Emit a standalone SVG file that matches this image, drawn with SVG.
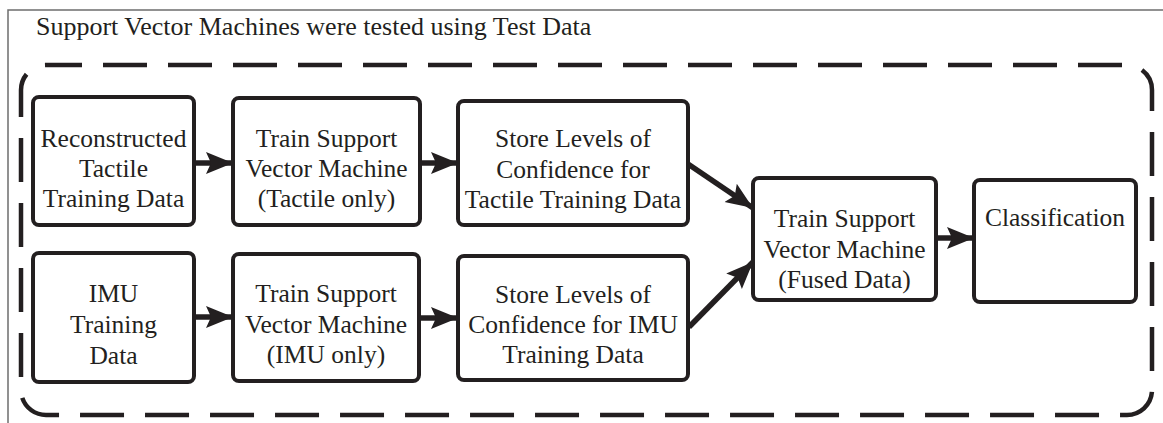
<svg xmlns="http://www.w3.org/2000/svg" width="1163" height="423" viewBox="0 0 1163 423">
  <defs>
    <style>
      .frame { fill: none; stroke: #6d6d6d; stroke-width: 1.5; }
      .group { fill: none; stroke: #231f20; stroke-width: 4.5; stroke-dasharray: 44 21; stroke-dashoffset: 8; }
      .box { fill: #ffffff; stroke: #231f20; stroke-width: 4; }
      .label { font-family: "Liberation Serif", "Times New Roman", serif; font-size: 25.5px; fill: #231f20; text-anchor: middle; }
      .title { font-family: "Liberation Serif", "Times New Roman", serif; font-size: 26px; fill: #231f20; }
      .link { fill: none; stroke: #231f20; stroke-width: 5.5; }
    </style>
    <marker id="head" markerUnits="userSpaceOnUse" markerWidth="30" markerHeight="26" viewBox="-27 -13 30 26" refX="0" refY="0" orient="auto">
      <path d="M0,0 L-27,-11 L-22,0 L-27,11 Z" fill="#231f20"/>
    </marker>
  </defs>

  <!-- outer frame, cut off at the right and bottom -->
  <rect class="frame" x="8" y="10" width="1200" height="460"/>
  <text class="title" x="36" y="35">Support Vector Machines were tested using Test Data</text>

  <!-- dashed grouping outline -->
  <path class="group" d="M46,65 H1127 A25,25 0 0 1 1152,90 V390 A25,25 0 0 1 1127,415 H46 A25,25 0 0 1 21,390 V90 A25,25 0 0 1 46,65 Z"/>

  <g id="connectors">
    <line class="link" x1="194" y1="163" x2="233" y2="163" marker-end="url(#head)"/>
    <line class="link" x1="420" y1="163" x2="458" y2="163" marker-end="url(#head)"/>
    <line class="link" x1="194" y1="317" x2="233" y2="317" marker-end="url(#head)"/>
    <line class="link" x1="419" y1="318" x2="458" y2="318" marker-end="url(#head)"/>
    <line class="link" x1="688" y1="164" x2="753" y2="208" marker-end="url(#head)"/>
    <line class="link" x1="689" y1="327" x2="753" y2="262" marker-end="url(#head)"/>
    <line class="link" x1="936" y1="238" x2="974" y2="238" marker-end="url(#head)"/>
  </g>

  <g id="tactile-data">
    <rect class="box" x="33" y="97" width="161" height="128" rx="6"/>
    <text class="label" x="113.5" y="147">Reconstructed</text>
    <text class="label" x="113.5" y="177">Tactile</text>
    <text class="label" x="113.5" y="207">Training Data</text>
  </g>

  <g id="train-tactile">
    <rect class="box" x="233" y="98" width="187" height="127" rx="6"/>
    <text class="label" x="326.5" y="147">Train Support</text>
    <text class="label" x="326.5" y="177">Vector Machine</text>
    <text class="label" x="326.5" y="207">(Tactile only)</text>
  </g>

  <g id="store-tactile">
    <rect class="box" x="458" y="101" width="230" height="124" rx="6"/>
    <text class="label" x="573" y="147">Store Levels of</text>
    <text class="label" x="573" y="178">Confidence for</text>
    <text class="label" x="573" y="208">Tactile Training Data</text>
  </g>

  <g id="imu-data">
    <rect class="box" x="33" y="253" width="161" height="129" rx="6"/>
    <text class="label" x="113.5" y="302">IMU</text>
    <text class="label" x="113.5" y="333">Training</text>
    <text class="label" x="113.5" y="364">Data</text>
  </g>

  <g id="train-imu">
    <rect class="box" x="233" y="254" width="186" height="127" rx="6"/>
    <text class="label" x="326" y="302">Train Support</text>
    <text class="label" x="326" y="333">Vector Machine</text>
    <text class="label" x="326" y="363">(IMU only)</text>
  </g>

  <g id="store-imu">
    <rect class="box" x="458" y="256" width="230" height="124" rx="6"/>
    <text class="label" x="573" y="303">Store Levels of</text>
    <text class="label" x="573" y="333">Confidence for IMU</text>
    <text class="label" x="573" y="363">Training Data</text>
  </g>

  <g id="train-fused">
    <rect class="box" x="753" y="178" width="183" height="122" rx="6"/>
    <text class="label" x="844.5" y="227">Train Support</text>
    <text class="label" x="844.5" y="258">Vector Machine</text>
    <text class="label" x="844.5" y="288">(Fused Data)</text>
  </g>

  <g id="classification">
    <rect class="box" x="974" y="180" width="162" height="122" rx="6"/>
    <text class="label" x="1055" y="226">Classification</text>
  </g>
</svg>
